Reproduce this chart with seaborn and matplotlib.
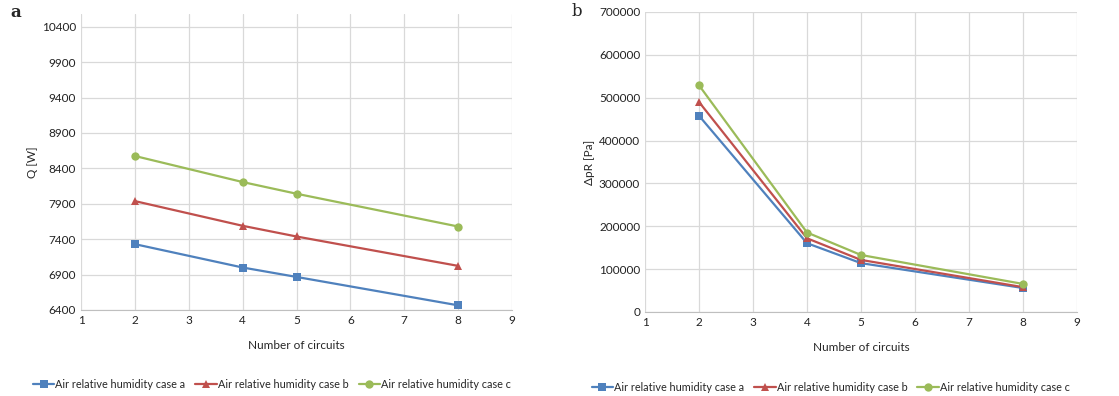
import pandas as pd
import matplotlib.pyplot as plt
import seaborn as sns

# values
circuits = [2, 4, 5, 8]
cases = ['Air relative humidity case a', 'Air relative humidity case b', 'Air relative humidity case c']
q_a = [7330, 7000, 6867, 6466]
q_b = [7938, 7589, 7438, 7023]
q_c = [8575, 8207, 8042, 7579]
dp_a = [458000, 160500, 114000, 56000]
dp_b = [490000, 172000, 121500, 58000]
dp_c = [529000, 185500, 133000, 65500]

colors = ['#4F81BD', '#C0504D', '#9BBB59']
markers = ['s', '^', 'o']

def long_table(series):
    rows = []
    for name, vals in zip(cases, series):
        for x, v in zip(circuits, vals):
            rows.append({'circuits': x, 'value': v, 'case': name})
    return pd.DataFrame(rows)

q_df = long_table([q_a, q_b, q_c])
dp_df = long_table([dp_a, dp_b, dp_c])

sns.set_style('white')
plt.rcParams['font.family'] = ['Lato', 'DejaVu Sans']

fig = plt.figure(figsize=(11.19, 3.96), dpi=100)
ax1 = fig.add_axes([81 / 1119, 1 - 310 / 396, 431 / 1119, 296 / 396])
ax2 = fig.add_axes([645 / 1119, 1 - 312 / 396, 432 / 1119, 300 / 396])

def draw(ax, df, ylim, yticks, ylabel, legx):
    sns.lineplot(data=df, x='circuits', y='value', hue='case', style='case',
                 palette=colors, markers=markers, dashes=False, markersize=6,
                 markeredgewidth=0, linewidth=1.6, ax=ax)
    ax.set_xlim(1, 9)
    ax.set_xticks(range(1, 10))
    ax.set_ylim(*ylim)
    ax.set_yticks(yticks)
    ax.grid(True, color='#D9D9D9', linewidth=0.9)
    ax.set_axisbelow(True)
    for side in ['top', 'right', 'left']:
        ax.spines[side].set_visible(False)
    ax.spines['bottom'].set_color('#BFBFBF')
    ax.tick_params(axis='both', length=0, labelsize=8.5, colors='#222222')
    ax.set_xlabel('Number of circuits', fontsize=8.5, labelpad=10)
    ax.set_ylabel(ylabel, fontsize=8.5, labelpad=3)
    ax.legend(loc='upper center', bbox_to_anchor=(legx, -0.2), ncol=3, frameon=False,
              fontsize=7.8, handlelength=2.0, handletextpad=0.1, columnspacing=0.9)

draw(ax1, q_df, (6400, 10580), range(6400, 10401, 500), 'Q [W]', 0.443)
draw(ax2, dp_df, (0, 700000), range(0, 700001, 100000), 'ΔpR [Pa]', 0.43)

fig.text(10 / 1119, 1 - 17 / 396, 'a', fontsize=12, fontweight='bold', family='DejaVu Serif')
fig.text(572 / 1119, 1 - 16 / 396, 'b', fontsize=12, family='DejaVu Serif')

fig.savefig('out.png', dpi=100)
